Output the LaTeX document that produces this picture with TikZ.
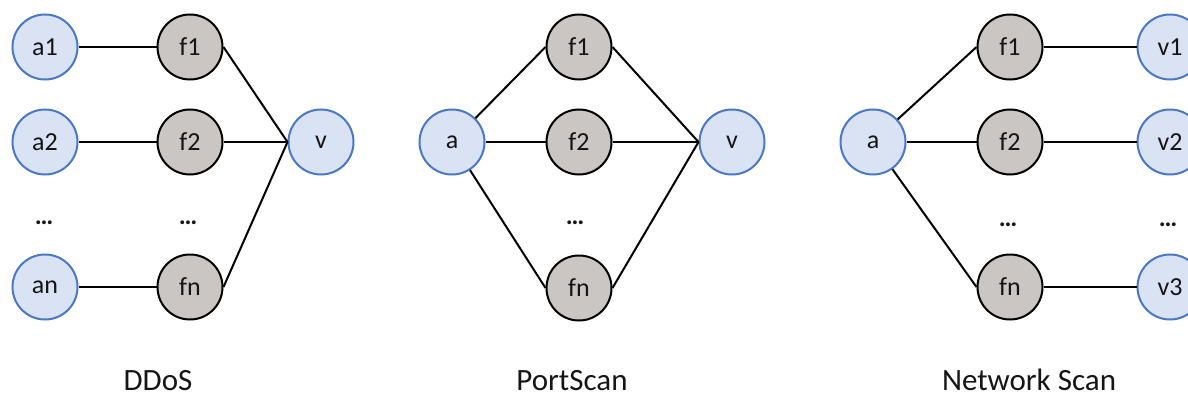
\documentclass[tikz,border=0pt]{standalone}
\usepackage{fontspec}
\setmainfont{Carlito}
\definecolor{hostfill}{HTML}{DAE3F3}
\definecolor{hostline}{HTML}{4A78C6}
\definecolor{flowfill}{HTML}{CAC6C4}
\definecolor{inkgray}{HTML}{151515}
\tikzset{
  host/.style={circle, draw=hostline, fill=hostfill, line width=2pt,
    minimum size=65pt, inner sep=0pt, text=inkgray,
    font=\fontsize{26}{30}\selectfont},
  flow/.style={circle, draw=black, fill=flowfill, line width=2pt,
    minimum size=65pt, inner sep=0pt, text=inkgray,
    font=\fontsize{26}{30}\selectfont},
  gap/.style={inner sep=0pt, anchor=base, text=inkgray,
    font=\fontsize{26}{30}\selectfont\bfseries},
  caption/.style={inner sep=0pt, anchor=base, text=inkgray,
    font=\fontsize{31}{36}\selectfont},
  link/.style={draw=black, line width=2pt},
}
\begin{document}
\begin{tikzpicture}[x=1pt, y=-1pt]
  \useasboundingbox (0,0) rectangle (1188,396);
  \clip (0,0) rectangle (1188,396);

  % ---- DDoS: many attackers, one victim ----
  \node[host] (d-a1) at (45,47)  {a1};
  \node[host] (d-a2) at (45,142) {a2};
  \node[host] (d-an) at (45,287) {an};
  \node[flow] (d-f1) at (190,47)  {f1};
  \node[flow] (d-f2) at (190,142) {f2};
  \node[flow] (d-fn) at (190,287) {fn};
  \node[host] (d-v)  at (321,142) {v};
  \node[gap] (d-adots) at (44,224) {…};
  \node[gap] (d-fdots) at (188,224) {…};
  \draw[link] (d-a1) -- (d-f1);
  \draw[link] (d-a2) -- (d-f2);
  \draw[link] (d-an) -- (d-fn);
  \draw[link] (d-f1.east) -- (d-v.west);
  \draw[link] (d-f2) -- (d-v.west);
  \draw[link] (d-fn.east) -- (d-v.west);
  \node[caption] (d-cap) at (158,390) {DDoS};

  % ---- PortScan: one attacker, one victim, many flows ----
  \node[host] (p-a)  at (452,142) {a};
  \node[flow] (p-f1) at (579,47)  {f1};
  \node[flow] (p-f2) at (579,142) {f2};
  \node[flow] (p-fn) at (579,288) {fn};
  \node[host] (p-v)  at (732,142) {v};
  \node[gap] (p-fdots) at (575,224) {…};
  \draw[link] (p-a) -- (p-f1.west);
  \draw[link] (p-a) -- (p-f2);
  \draw[link] (p-a) -- (p-fn.west);
  \draw[link] (p-f1.east) -- (p-v.west);
  \draw[link] (p-f2) -- (p-v.west);
  \draw[link] (p-fn.east) -- (p-v.west);
  \node[caption] (p-cap) at (572,390) {PortScan};

  % ---- Network Scan: one attacker, many victims ----
  \node[host] (n-a)  at (873,142) {a};
  \node[flow] (n-f1) at (1010,47)  {f1};
  \node[flow] (n-f2) at (1010,142) {f2};
  \node[flow] (n-fn) at (1010,287) {fn};
  \node[host] (n-v1) at (1170,47)  {v1};
  \node[host] (n-v2) at (1170,142) {v2};
  \node[host] (n-v3) at (1170,287) {v3};
  \node[gap] (n-fdots) at (1008,226) {…};
  \node[gap] (n-vdots) at (1168,226) {…};
  \draw[link] (n-a) -- (n-f1.west);
  \draw[link] (n-a) -- (n-f2);
  \draw[link] (n-a) -- (n-fn.west);
  \draw[link] (n-f1) -- (n-v1);
  \draw[link] (n-f2) -- (n-v2);
  \draw[link] (n-fn) -- (n-v3);
  \node[caption] (n-cap) at (1029,390) {Network Scan};
\end{tikzpicture}
\end{document}
